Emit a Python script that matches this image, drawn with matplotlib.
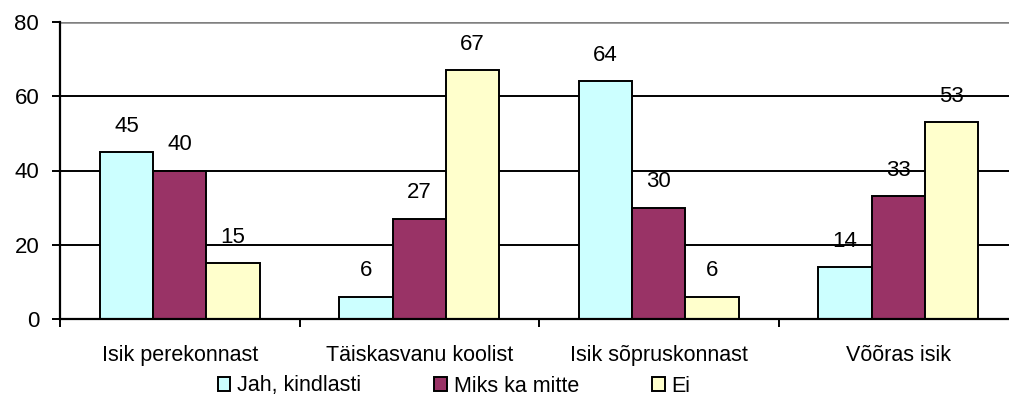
import numpy as np
import matplotlib
matplotlib.use('Agg')
import matplotlib.pyplot as plt
from matplotlib.patches import Patch

plt.rcParams['font.family'] = ['Liberation Sans', 'DejaVu Sans']
plt.rcParams['font.size'] = 15.5

categories = ['Isik perekonnast', 'Täiskasvanu koolist', 'Isik sõpruskonnast', 'Võõras isik']
series_names = ['Jah, kindlasti', 'Miks ka mitte', 'Ei']
jah = [45, 6, 64, 14]
miks = [40, 27, 30, 33]
ei = [15, 67, 6, 53]
colors = ['#CCFFFF', '#993366', '#FFFFCC']

fig = plt.figure(figsize=(10.09, 4.08), dpi=100)
ax = fig.add_axes([60 / 1009, 1 - 319 / 408, 958 / 1009, 297 / 408])

x = np.arange(len(categories))
w = 0.222
for i, (vals, col) in enumerate(zip([jah, miks, ei], colors)):
    pos = x + (i - 1) * w
    ax.bar(pos, vals, width=w, color=col, edgecolor='black', linewidth=1.4, zorder=3)
    for px, v in zip(pos, vals):
        ax.annotate(str(v), (px, v), xytext=(0, 11), textcoords='offset points',
                    ha='center', va='bottom', fontsize=16, zorder=4)

ax.set_xlim(-0.5, len(categories) - 0.5)
ax.set_ylim(0, 80)
ax.set_yticks([0, 20, 40, 60, 80])
ax.set_yticklabels(['0', '20', '40', '60', '80'], fontsize=16)
for yv in [20, 40, 60]:
    ax.axhline(yv, color='black', linewidth=1.4, zorder=1)
ax.axhline(80, color='#808080', linewidth=1.8, zorder=1)

ax.set_xticks(x)
ax.set_xticklabels(categories)
ax.set_xticks(np.arange(len(categories) + 1) - 0.5, minor=True)
ax.tick_params(axis='x', which='major', length=0, pad=19)
ax.tick_params(axis='x', which='minor', length=6, width=1.4, direction='out')
ax.tick_params(axis='y', length=6, width=1.4, direction='out', pad=9)

for s in ['top', 'right']:
    ax.spines[s].set_visible(False)
for s in ['left', 'bottom']:
    ax.spines[s].set_linewidth(1.6)
    ax.spines[s].set_zorder(5)

handles = [Patch(facecolor=c, edgecolor='black', linewidth=1.4) for c in colors]
fig.legend(handles, series_names, loc='center', bbox_to_anchor=(454 / 1009, 1 - 386 / 408),
           ncol=3, frameon=False, handlelength=0.6, handleheight=0.6,
           handletextpad=0.3, columnspacing=3.4, fontsize=15.5)

fig.savefig('out.png', dpi=100)
